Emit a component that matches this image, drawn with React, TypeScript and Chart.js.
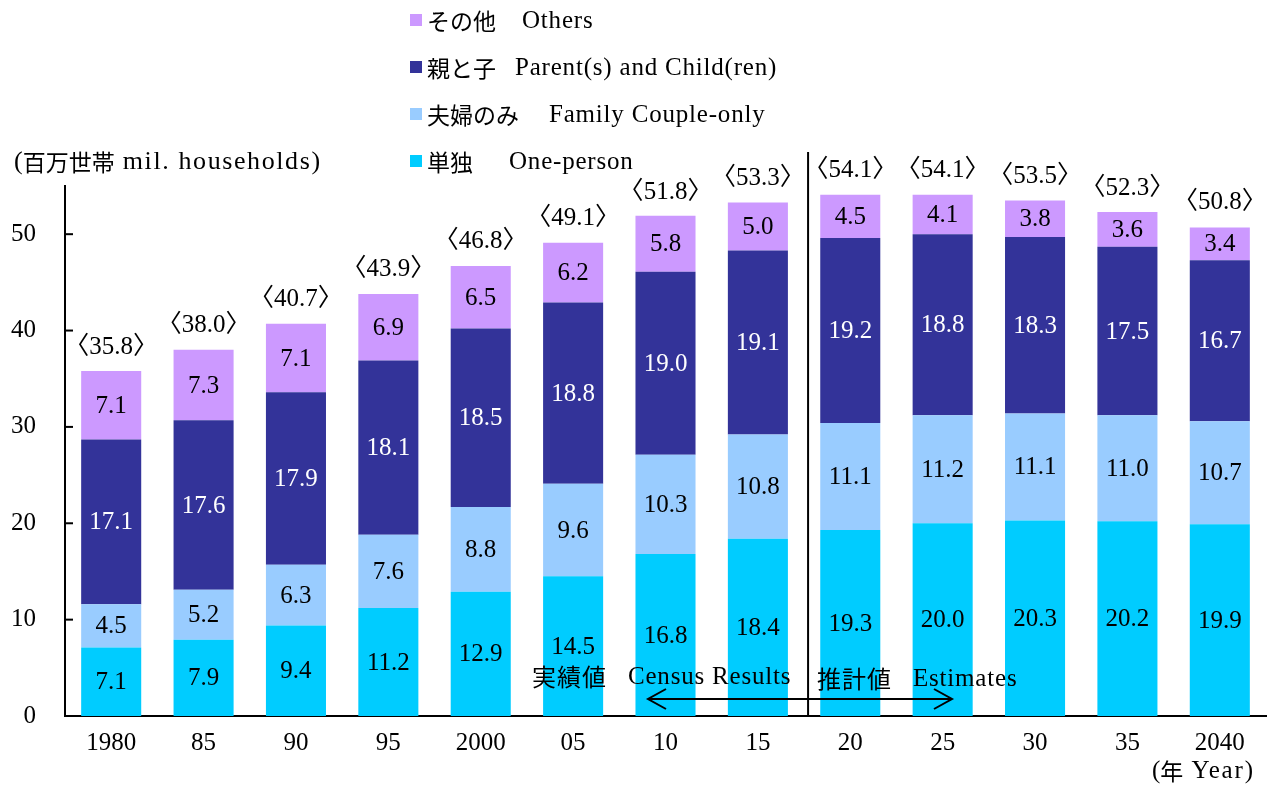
import React, { useEffect, useRef } from "react";
import { Chart, registerables } from "chart.js";

Chart.register(...registerables);

const categories = ["1980", "85", "90", "95", "2000", "05", "10", "15", "20", "25", "30", "35", "2040"];
const onePerson = [7.1, 7.9, 9.4, 11.2, 12.9, 14.5, 16.8, 18.4, 19.3, 20.0, 20.3, 20.2, 19.9];
const coupleOnly = [4.5, 5.2, 6.3, 7.6, 8.8, 9.6, 10.3, 10.8, 11.1, 11.2, 11.1, 11.0, 10.7];
const parentChild = [17.1, 17.6, 17.9, 18.1, 18.5, 18.8, 19.0, 19.1, 19.2, 18.8, 18.3, 17.5, 16.7];
const others = [7.1, 7.3, 7.1, 6.9, 6.5, 6.2, 5.8, 5.0, 4.5, 4.1, 3.8, 3.6, 3.4];
const totals = [35.8, 38.0, 40.7, 43.9, 46.8, 49.1, 51.8, 53.3, 54.1, 54.1, 53.5, 52.3, 50.8];
const yTicks = [0, 10, 20, 30, 40, 50];

const seriesJp = ["単独", "夫婦のみ", "親と子", "その他"];
const seriesEn = ["One-person", "Family Couple-only", "Parent(s) and Child(ren)", "Others"];
const seriesColors = ["#00CCFF", "#99CCFF", "#333399", "#CC99FF"];
const labelColors = ["#000000", "#000000", "#ffffff", "#000000"];
const legendEnX = [509, 549, 515, 522];

const FONT = '"Liberation Serif", "Noto Sans CJK JP", serif';
const FS = 25;
const LAT = `${FS}px ${FONT}`;
const LAT26 = `26px ${FONT}`;
const CJK = '23px "Noto Sans CJK JP", sans-serif';
const CJK24 = '24px "Noto Sans CJK JP", sans-serif';

function txt(ctx: any, t: string, font: string, sp: number, x: number, y: number) {
  ctx.textAlign = "left";
  ctx.font = font;
  ctx.letterSpacing = `${sp}px`;
  ctx.fillText(t, x, y);
  const w = ctx.measureText(t).width;
  ctx.letterSpacing = "0px";
  return x + w;
}

const overlay = {
  id: "overlay",
  afterDatasetsDraw(chart: any) {
    const ctx = chart.ctx;
    const area = chart.chartArea;
    const xs = chart.scales.x;
    const ys = chart.scales.y;
    ctx.save();
    ctx.font = LAT;
    ctx.textAlign = "center";
    ctx.textBaseline = "middle";
    // segment labels
    chart.data.datasets.forEach((ds: any, di: number) => {
      const meta = chart.getDatasetMeta(di);
      meta.data.forEach((el: any, i: number) => {
        const v = ds.data[i];
        const cy = (el.y + el.base) / 2;
        ctx.fillStyle = labelColors[di];
        ctx.fillText(v.toFixed(1), el.x, cy + 1);
      });
    });
    // totals
    ctx.fillStyle = "#000";
    totals.forEach((t, i) => {
      const x = xs.getPixelForValue(i);
      const y = ys.getPixelForValue(t);
      ctx.fillText(`〈${t.toFixed(1)}〉`, x, y - 24);
    });
    // inward y ticks
    ctx.strokeStyle = "#000";
    ctx.lineWidth = 2;
    yTicks.forEach((v) => {
      const y = ys.getPixelForValue(v);
      ctx.beginPath();
      ctx.moveTo(area.left, y);
      ctx.lineTo(area.left + 8, y);
      ctx.stroke();
    });
    // separator line
    const sepX = (xs.getPixelForValue(7) + xs.getPixelForValue(8)) / 2 + 4;
    ctx.beginPath();
    ctx.moveTo(sepX, 152);
    ctx.lineTo(sepX, area.bottom);
    ctx.stroke();
    // arrow
    const ay = 699;
    const ax1 = 648;
    const ax2 = 952;
    ctx.beginPath();
    ctx.moveTo(ax1, ay);
    ctx.lineTo(ax2, ay);
    ctx.moveTo(ax1 + 18, ay - 10);
    ctx.lineTo(ax1, ay);
    ctx.lineTo(ax1 + 18, ay + 10);
    ctx.moveTo(ax2 - 18, ay - 10);
    ctx.lineTo(ax2, ay);
    ctx.lineTo(ax2 - 18, ay + 10);
    ctx.stroke();
    // annotations
    ctx.fillStyle = "#000";
    txt(ctx, "実績値", CJK24, 1, 532, 677);
    txt(ctx, "Census Results", LAT, 0.8, 628, 677);
    txt(ctx, "推計値", CJK24, 1, 817, 679);
    txt(ctx, "Estimates", LAT, 0.8, 913, 679);
    let cx = txt(ctx, "(", LAT26, 0, 14, 162);
    cx = txt(ctx, "百万世帯", CJK, 0, cx, 162);
    txt(ctx, " mil. households)", LAT26, 1.6, cx, 162);
    cx = txt(ctx, "(", LAT, 0, 1152, 771);
    cx = txt(ctx, "年", CJK, 0, cx, 771);
    txt(ctx, " Year)", LAT, 1.8, cx, 771);
    // legend
    const rows = [3, 2, 1, 0];
    rows.forEach((si, r) => {
      const cy = 20 + r * 47;
      ctx.fillStyle = seriesColors[si];
      ctx.fillRect(410, cy - 6, 12, 12);
      ctx.fillStyle = "#000";
      txt(ctx, seriesJp[si], CJK, 0, 427, cy + 1);
      txt(ctx, seriesEn[si], LAT, 0.8, legendEnX[si], cy + 1);
    });
    ctx.restore();
  },
};

export default function App() {
  const ref = useRef<HTMLCanvasElement>(null);
  useEffect(() => {
    if (!ref.current) return;
    const seriesData = [onePerson, coupleOnly, parentChild, others];
    const chart = new Chart(ref.current, {
      type: "bar",
      data: {
        labels: categories,
        datasets: seriesData.map((d, i) => ({
          label: seriesJp[i] + "  " + seriesEn[i],
          data: d,
          backgroundColor: seriesColors[i],
          borderWidth: 0,
          barPercentage: 0.65,
          categoryPercentage: 1,
        })),
      },
      options: {
        responsive: false,
        animation: false,
        layout: { padding: { top: 186, left: 8, right: 1, bottom: 29 } },
        plugins: { legend: { display: false }, tooltip: { enabled: false } },
        scales: {
          x: {
            stacked: true,
            grid: { display: false, drawTicks: false },
            border: { display: true, color: "#000", width: 2 },
            ticks: { color: "#000", font: { family: FONT, size: FS }, padding: 12, maxRotation: 0 },
            afterFit: (s: any) => { s.height = 40; },
          },
          y: {
            stacked: true,
            min: 0,
            max: 55,
            grid: { display: false, drawTicks: false },
            border: { display: true, color: "#000", width: 2 },
            ticks: {
              stepSize: 10,
              includeBounds: false,
              color: "#000",
              font: { family: FONT, size: FS },
              padding: 29,
            },
            afterFit: (s: any) => { s.width = 57; },
          },
        },
      },
      plugins: [overlay],
    });
    return () => chart.destroy();
  }, []);
  return (
    <div style={{ position: "absolute", left: 0, top: 0, width: 1267, height: 785, background: "#fff" }}>
      <canvas ref={ref} width={1267} height={785} />
    </div>
  );
}
